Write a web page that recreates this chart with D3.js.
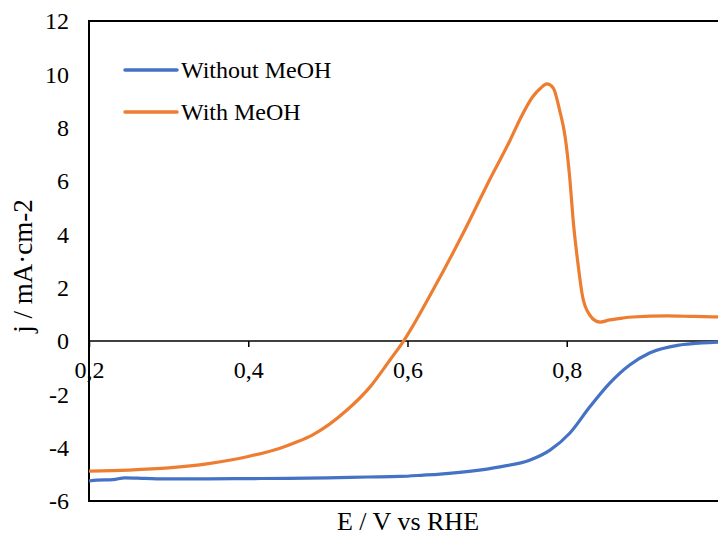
<!DOCTYPE html>
<html>
<head>
<meta charset="utf-8" />
<title>LSV</title>
<script src="https://cdn.jsdelivr.net/npm/d3@7"></script>
<style>
body{margin:0;background:#fff;overflow:hidden;}
svg{display:block;}
text{font-family:"Liberation Serif","Times New Roman",serif;fill:#000;}
</style>
</head>
<body>
<svg id="chart" width="718" height="537"></svg>
<script>
// potential (V vs RHE) and current density (mA/cm2)
var withE = [0.20,0.25,0.30,0.35,0.40,0.44,0.46,0.481,0.524,0.553,0.578,0.594,0.632,0.670,0.703,0.729,0.741,0.757,0.767,0.775,0.783,0.791,0.798,0.804,0.808,0.814,0.820,0.829,0.836,0.842,0.854,0.87,0.883,0.926,0.96,1.00];
var withJ = [-4.88,-4.84,-4.76,-4.60,-4.33,-4.02,-3.80,-3.52,-2.59,-1.72,-0.71,-0.05,1.91,4.05,6.04,7.54,8.3,9.15,9.48,9.64,9.49,8.66,7.65,6.04,4.54,2.92,1.65,0.97,0.76,0.71,0.79,0.86,0.9,0.94,0.92,0.9];
var withoutE = [0.20,0.21,0.23,0.245,0.27,0.30,0.35,0.40,0.45,0.50,0.55,0.59,0.62,0.641,0.68,0.716,0.754,0.779,0.804,0.829,0.854,0.879,0.904,0.942,0.97,1.00];
var withoutJ = [-5.25,-5.22,-5.2,-5.13,-5.15,-5.17,-5.17,-5.16,-5.15,-5.13,-5.10,-5.08,-5.03,-4.99,-4.88,-4.72,-4.46,-4.09,-3.45,-2.47,-1.58,-0.9,-0.45,-0.15,-0.07,-0.03];
var xTicks = [0.2,0.4,0.6,0.8];
var yTicks = [-6,-4,-2,0,2,4,6,8,10,12];
var seriesNames = ["Without MeOH","With MeOH"];
var seriesColors = ["#4472C4","#ED7D31"];

var svg = d3.select("#chart");
var x = d3.scaleLinear().domain([0.2,1.0]).range([89,726]);
var y = d3.scaleLinear().domain([-6,12]).range([501,21]);

// frame
svg.append("rect").attr("x",x(0.2)).attr("y",y(12)).attr("width",x(1.0)-x(0.2)).attr("height",y(-6)-y(12))
  .attr("fill","none").attr("stroke","#000").attr("stroke-width",2);

// zero axis with ticks
var xAxis = d3.axisBottom(x).tickValues(xTicks).tickSize(6).tickFormat(function(d){return d3.format(".1f")(d).replace(".",",");});
var gx = svg.append("g").attr("transform","translate(0,"+y(0)+")").call(xAxis);
gx.attr("font-family",null);
gx.select(".domain").attr("stroke","#000").attr("stroke-width",1.5).attr("d","M"+x(0.2)+",0H"+x(1.0));
gx.selectAll(".tick line").attr("stroke","#000").attr("stroke-width",1.5);
gx.selectAll(".tick text").attr("y",20).attr("dy","0.71em").style("font-size","24px");

// y labels (no ticks)
var yAxis = d3.axisLeft(y).tickValues(yTicks).tickSize(0).tickPadding(20)
  .tickFormat(function(d){return String(d);});
var gy = svg.append("g").attr("transform","translate("+x(0.2)+",0)").call(yAxis);
gy.attr("font-family",null);
gy.select(".domain").remove();
gy.selectAll(".tick text").style("font-size","24px");

// curves
var line = d3.line().x(function(d){return x(d[0]);}).y(function(d){return y(d[1]);}).curve(d3.curveMonotoneX);
var series = [d3.zip(withoutE,withoutJ), d3.zip(withE,withJ)];
series.forEach(function(s,i){
  svg.append("path").datum(s).attr("d",line).attr("fill","none")
    .attr("stroke",seriesColors[i]).attr("stroke-width",3.2).attr("stroke-linejoin","round");
});

// legend
seriesNames.forEach(function(n,i){
  var ly = 70 + i*42;
  svg.append("line").attr("x1",125).attr("x2",177).attr("y1",ly).attr("y2",ly)
    .attr("stroke",seriesColors[i]).attr("stroke-width",3.5).attr("stroke-linecap","round");
  svg.append("text").attr("x",181).attr("y",ly+8).style("font-size","24px").text(n);
});

// axis titles
svg.append("text").attr("x",408).attr("y",530).attr("text-anchor","middle").style("font-size","26px").text("E / V vs RHE");
svg.append("text").attr("transform","translate(32,266) rotate(-90)").attr("text-anchor","middle").style("font-size","27px").text("j / mA·cm-2");
</script>
</body>
</html>
